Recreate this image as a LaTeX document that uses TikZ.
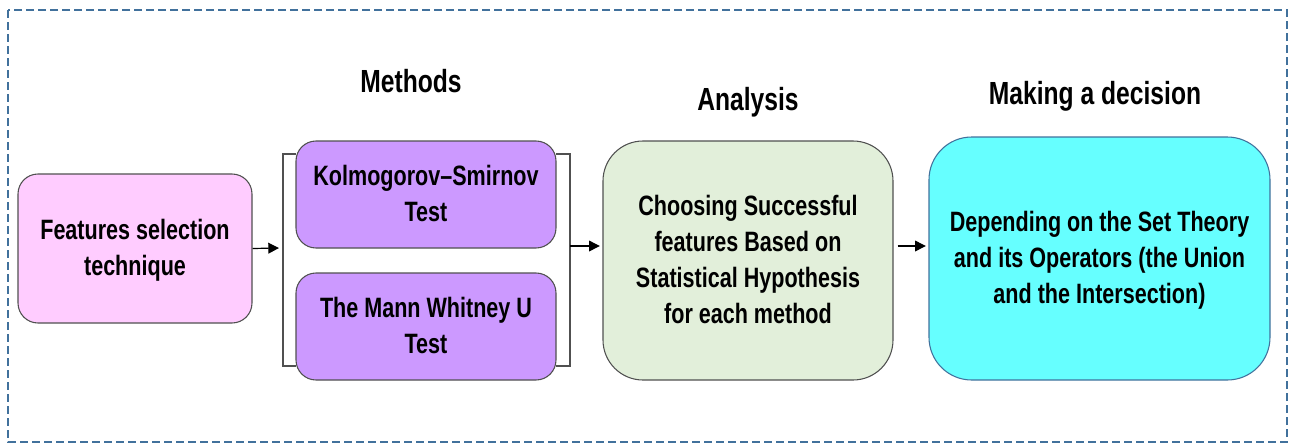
\documentclass[tikz,border=0pt]{standalone}
\usepackage{fontspec}
\setmainfont{Liberation Sans}[FakeStretch=0.77]
\usetikzlibrary{arrows.meta}
\definecolor{pinkf}{RGB}{255,204,255}
\definecolor{purpf}{RGB}{204,153,255}
\definecolor{greenf}{RGB}{226,239,218}
\definecolor{cyanf}{RGB}{102,255,255}
\definecolor{frameblue}{RGB}{65,113,156}
\definecolor{edgegray}{RGB}{80,80,80}
\tikzset{
  box/.style={draw=edgegray, line width=0.8pt, rounded corners=15pt, align=center,
    font=\fontsize{21}{27}\selectfont\bfseries, inner sep=0pt, text depth=2pt},
  title/.style={font=\fontsize{24}{29}\selectfont\bfseries, inner sep=0pt},
  conn/.style={-{Triangle[length=8pt,width=8pt]}, line width=0.9pt},
  brk/.style={draw=edgegray, line width=0.8pt},
}
\begin{document}
\begin{tikzpicture}[x=0.75pt,y=-0.75pt]
\useasboundingbox (0,0) rectangle (1290,444);
\draw[frameblue, line width=1.4pt, dash pattern=on 6pt off 3pt] (8,10) rectangle (1287,442);

\node[box, fill=pinkf, minimum width=175.5pt, minimum height=111.75pt] (feat) at (135,248.5) {Features selection\\technique};
\node[box, fill=purpf, minimum width=195pt, minimum height=80.25pt] (ks) at (426,194.5) {Kolmogorov–Smirnov\\Test};
\node[box, fill=purpf, minimum width=195pt, minimum height=80.25pt] (mw) at (426,326.5) {The Mann Whitney U\\Test};
\node[box, fill=greenf, rounded corners=30pt, minimum width=217.5pt, minimum height=179.25pt] (ana) at (748,260.5) {Choosing Successful\\features Based on\\Statistical Hypothesis\\for each method};
\node[box, draw=frameblue, fill=cyanf, rounded corners=32pt, minimum width=255.75pt, minimum height=182.25pt] (dec) at (1099.5,258.5) {Depending on the Set Theory\\and its Operators (the Union\\and the Intersection)};

\node[title] (t1) at (411,81) {Methods};
\node[title] (t2) at (748,102) {Analysis};
\node[title] (t3) at (1095,96) {Making a decision};

% brackets
\coordinate (bl) at (283,248);
\coordinate (br) at (570,246);
\draw[brk] (296,154) -- (283,154) -- (283,366) -- (296,366);
\draw[brk] (556,154) -- (570,154) -- (570,366) -- (556,366);

\draw[conn] (feat.east) -- ([xshift=-3pt]bl);
\draw[conn] (br) -- ([xshift=-2pt]ana.west |- br);
\draw[conn] ([xshift=3pt]ana.east |- br) -- ([xshift=-2pt]dec.west |- br);
\end{tikzpicture}
\end{document}
